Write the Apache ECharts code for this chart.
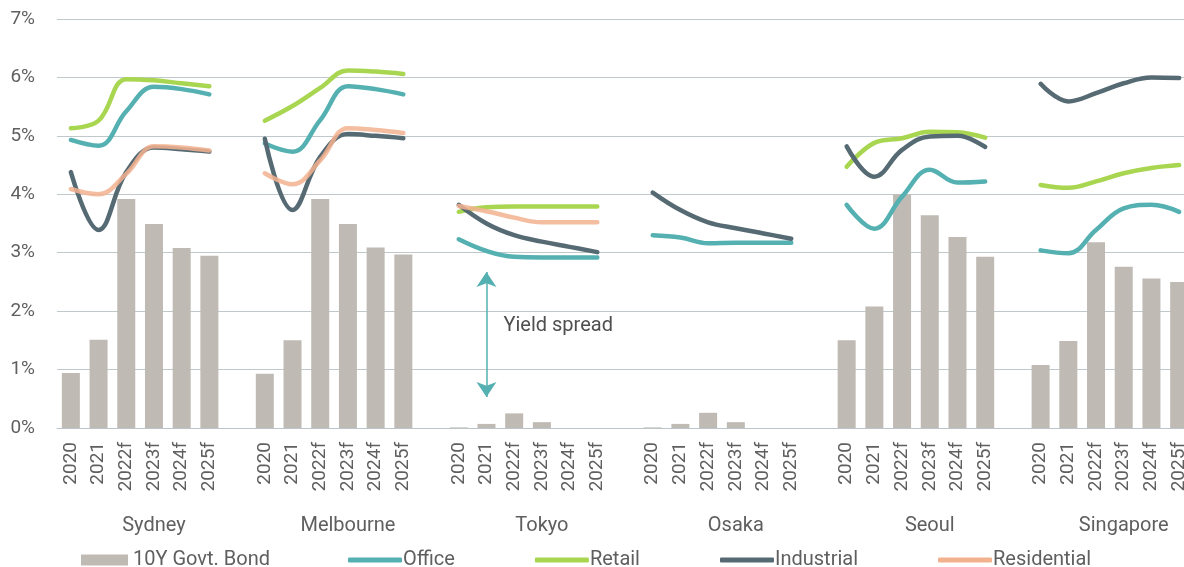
<!DOCTYPE html>
<html>
<head>
<meta charset="utf-8">
<script src="https://cdn.jsdelivr.net/npm/echarts@6/dist/echarts.min.js"></script>
<style>
  html, body { margin: 0; padding: 0; background: #fff; overflow: hidden; }
  #chart { width: 1193px; height: 567px; }
</style>
</head>
<body>
<div id="chart"></div>
<script>
// 城市和年份
const cities = ['Sydney', 'Melbourne', 'Tokyo', 'Osaka', 'Seoul', 'Singapore']
const years = ['2020', '2021', '2022f', '2023f', '2024f', '2025f']

// 10年期国债收益率（柱）
const bond = [
  [0.94, 1.51, 3.92, 3.49, 3.08, 2.95],
  [0.93, 1.50, 3.92, 3.49, 3.09, 2.97],
  [0.01, 0.07, 0.25, 0.10, 0, 0],
  [0.01, 0.07, 0.26, 0.10, 0, 0],
  [1.50, 2.08, 4.00, 3.64, 3.27, 2.93],
  [1.08, 1.49, 3.18, 2.76, 2.56, 2.50]
]

// 各类物业收益率（线）
const office = [
  [4.93, 4.83, 5.42, 5.84, 5.80, 5.71],
  [4.87, 4.73, 5.27, 5.85, 5.80, 5.71],
  [3.23, 3.03, 2.93, 2.92, 2.92, 2.92],
  [3.30, 3.26, 3.16, 3.17, 3.17, 3.17],
  [3.82, 3.41, 3.96, 4.42, 4.20, 4.22],
  [3.04, 2.99, 3.39, 3.76, 3.82, 3.70]
]
const retail = [
  [5.13, 5.26, 5.97, 5.95, 5.90, 5.85],
  [5.26, 5.51, 5.82, 6.12, 6.10, 6.06],
  [3.70, 3.78, 3.79, 3.79, 3.79, 3.79],
  [null, null, null, null, null, null],
  [4.47, 4.88, 4.96, 5.07, 5.06, 4.97],
  [4.16, 4.11, 4.22, 4.36, 4.45, 4.50]
]
const industrial = [
  [4.38, 3.39, 4.38, 4.80, 4.77, 4.73],
  [4.95, 3.73, 4.64, 5.03, 5.00, 4.96],
  [3.82, 3.50, 3.30, 3.19, 3.10, 3.01],
  [4.03, 3.73, 3.52, 3.42, 3.33, 3.24],
  [4.82, 4.30, 4.76, 4.99, 5.00, 4.81],
  [5.89, 5.59, 5.73, 5.90, 6.00, 5.99]
]
const residential = [
  [4.09, 4.00, 4.35, 4.82, 4.80, 4.75],
  [4.36, 4.17, 4.58, 5.13, 5.10, 5.05],
  [3.80, 3.71, 3.60, 3.52, 3.52, 3.52],
  [null, null, null, null, null, null],
  [null, null, null, null, null, null],
  [null, null, null, null, null, null]
]

// y轴刻度
const yTicks = { min: 0, max: 7, step: 1 }

// 标注：收益差箭头（Tokyo 2021 位置）
const spreadIndex = 15
const spreadFrom = 2.67
const spreadTo = 0.53
const spreadLabelAt = 1.74

// 各城市之间插入一个空位
function withGaps(rows, gap) {
  const out = []
  rows.forEach((row, i) => {
    row.forEach(v => out.push(v))
    if (i < rows.length - 1) out.push(gap)
  })
  return out
}

const categories = withGaps(cities.map(() => years), '')
// 城市名放在每组第4个位置
const cityAxis = categories.map((c, i) => (i % 7 === 3 ? cities[Math.floor(i / 7)] : ''))

const textColor = '#5f5f5f'
const fontFamily = 'Roboto'

const lineSeries = (name, rows, color, opacity) => ({
  name: name,
  type: 'line',
  data: withGaps(rows, null),
  smooth: 0.4,
  symbol: 'none',
  connectNulls: false,
  color: color,
  lineStyle: { width: 4.5, color: color, cap: 'round', opacity: opacity },
  emphasis: { disabled: true },
  z: 3
})

const myChart = echarts.init(document.querySelector('#chart'))
const option = {
  animation: false,
  textStyle: { fontFamily: fontFamily },
  grid: {
    left: 57,
    right: 0,
    top: 19,
    bottom: 139
  },
  xAxis: [
    {
      type: 'category',
      data: categories,
      position: 'bottom',
      axisTick: { show: false },
      axisLine: { lineStyle: { color: '#bcc6ca', width: 1 } },
      axisLabel: {
        interval: 0,
        rotate: 90,
        margin: 14,
        fontSize: 19,
        color: textColor
      }
    },
    {
      type: 'category',
      data: cityAxis,
      position: 'bottom',
      axisTick: { show: false },
      axisLine: { show: false },
      splitLine: { show: false },
      axisLabel: {
        interval: 0,
        margin: 88,
        fontSize: 20,
        color: textColor
      }
    }
  ],
  yAxis: {
    type: 'value',
    min: yTicks.min,
    max: yTicks.max,
    interval: yTicks.step,
    axisLabel: {
      formatter: '{value}%',
      fontSize: 19,
      margin: 22,
      color: textColor
    },
    axisLine: { show: false },
    axisTick: { show: false },
    splitLine: { lineStyle: { color: '#bfc9cc', width: 1 } }
  },
  // 图例：柱和线分开
  legend: [
    {
      data: [{ name: '10Y Govt. Bond', icon: 'rect' }],
      left: 81,
      top: 550,
      padding: 0,
      itemWidth: 47,
      itemHeight: 11,
      textStyle: { fontSize: 20, color: textColor }
    },
    {
      data: ['Office', 'Retail', 'Industrial', 'Residential'].map(n => ({ name: n, icon: 'roundRect' })),
      left: 348,
      top: 550,
      padding: 0,
      itemWidth: 54,
      itemHeight: 5,
      itemGap: 80,
      textStyle: { fontSize: 20, color: textColor, padding: [0, 0, 0, -4] }
    }
  ],
  series: [
    {
      name: '10Y Govt. Bond',
      type: 'bar',
      data: withGaps(bond, null),
      barWidth: 18,
      color: '#bfbab4',
      itemStyle: { color: '#bfbab4' },
      emphasis: { disabled: true },
      z: 2,
      markLine: {
        silent: true,
        symbol: ['arrow', 'arrow'],
        symbolSize: [15, 15],
        label: { show: false },
        lineStyle: { color: '#55b0b1', width: 1.5, type: 'solid' },
        data: [[{ coord: [spreadIndex, spreadFrom] }, { coord: [spreadIndex, spreadTo] }]]
      },
      markPoint: {
        silent: true,
        symbol: 'circle',
        symbolSize: 0,
        label: {
          show: true,
          position: 'right',
          distance: 17,
          formatter: 'Yield spread',
          fontSize: 20,
          color: '#4f4f4f'
        },
        data: [{ coord: [spreadIndex, spreadLabelAt] }]
      }
    },
    lineSeries('Office', office, '#55b0b1', 1),
    lineSeries('Retail', retail, '#a9d651', 1),
    lineSeries('Industrial', industrial, '#566a74', 1),
    lineSeries('Residential', residential, '#f3b28f', 0.85)
  ]
}
myChart.setOption(option)
</script>
</body>
</html>
